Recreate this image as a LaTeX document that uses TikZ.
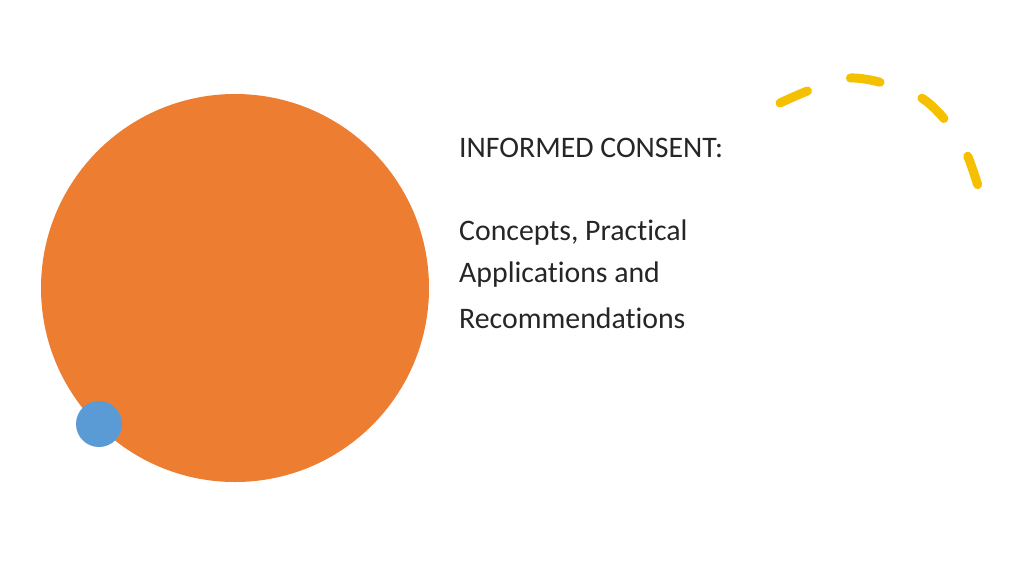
\documentclass[tikz,border=0pt]{standalone}
\usepackage{fontspec}
\setmainfont[RawFeature={-liga}]{Carlito}
\begin{document}
\begin{tikzpicture}[x=1pt,y=-1pt,
  txt/.style={anchor=west,inner sep=0pt,font=\fontsize{29.8}{34}\selectfont,text=black!85}]
\useasboundingbox (0,0) rectangle (1024,576);
\fill[white] (0,0) rectangle (1024,576);
\fill[fill={rgb,255:red,237;green,125;blue,49}] (235,288) circle (194);
\fill[fill={rgb,255:red,91;green,155;blue,213}] (99,424) circle (23);
\draw[line width=9,line cap=round,color={rgb,255:red,245;green,192;blue,0},dash pattern=on 30 off 45]
  plot[smooth] coordinates {(780,103) (850,78) (920,97) (960,140) (978,186)};
\node[txt] (t1) at (459,148) {INFORMED CONSENT:};
\node[txt] (t2) at (459,233) {Concepts, Practical};
\node[txt] (t3) at (459,275) {Applications and};
\node[txt] (t4) at (459,318) {Recommendations};
\end{tikzpicture}
\end{document}
